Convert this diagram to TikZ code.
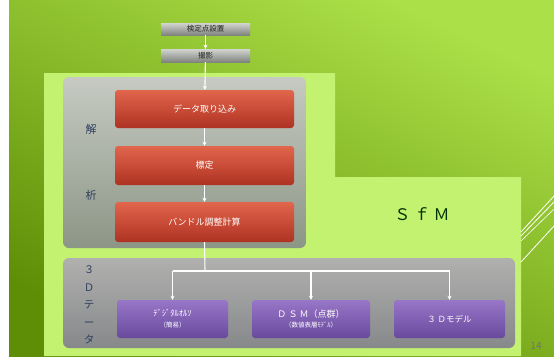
\documentclass[tikz,border=0pt]{standalone}
\usepackage{fontspec}
\setmainfont{Noto Sans CJK JP}
\usetikzlibrary{arrows.meta}
\definecolor{bgtop}{HTML}{ACE048}
\definecolor{bgbot}{HTML}{5E8E06}
\definecolor{lightgreen}{HTML}{C2F270}
\definecolor{redtop}{HTML}{E2664C}
\definecolor{redbot}{HTML}{AE3222}
\definecolor{purtop}{HTML}{9876C8}
\definecolor{purbot}{HTML}{684A9C}
\definecolor{pantop}{HTML}{C6CAC2}
\definecolor{panbot}{HTML}{8C9686}
\definecolor{pan2top}{HTML}{B0B0AE}
\definecolor{pan2bot}{HTML}{86888A}
\definecolor{greytop}{HTML}{D2D4D0}
\definecolor{greybot}{HTML}{80847E}
\definecolor{labelblue}{HTML}{2E3E5E}
\tikzset{
  redbox/.style={draw=none,rounded corners=3pt,top color=redtop,bottom color=redbot,text=white,font=\fontsize{9}{10}\selectfont},
  purbox/.style={draw=none,rounded corners=3pt,top color=purtop,bottom color=purbot,text=white,align=center},
  topbox/.style={draw=none,top color=greytop,bottom color=greybot,text=black!85,font=\fontsize{7.5}{8}\selectfont,inner sep=0pt},
  panel/.style={rounded corners=6pt},
  conn/.style={draw=white,line width=1.1pt,-{Stealth[length=4pt,width=4pt]}},
  plain/.style={draw=white,line width=1.1pt},
  sidelabel/.style={text=labelblue,font=\fontsize{11}{11}\selectfont},
}
\begin{document}
\begin{tikzpicture}[x=1pt,y=-1pt]
\useasboundingbox (0,0) rectangle (554,356);
% background
\shade[shading=axis,top color=bgtop,bottom color=bgbot,shading angle=-25] (9,0) rectangle (554,356);
\fill[white] (0,0) rectangle (9,356);
% light green region
\fill[lightgreen] (44,73) -- (335,73) -- (335,177) -- (521,177) -- (521,356) -- (44,356) -- cycle;
% diagonal lines
\draw[white,line width=0.8pt] (521,232) -- (554,196);
\draw[white,line width=0.8pt] (521,236) -- (554,202);
\draw[white,line width=0.6pt] (521,241) -- (554,209);
\draw[white,line width=0.8pt] (521,262) -- (554,226);
% panels
\shade[panel,top color=pantop,bottom color=panbot] (63,77) rectangle (306,248);
\shade[panel,top color=pan2top,bottom color=pan2bot] (63,258) rectangle (515,348);
% top boxes
\node[topbox,minimum width=89pt,minimum height=12pt] (kentei) at (205.5,29) {検定点設置};
\node[topbox,minimum width=89pt,minimum height=13pt] (satsuei) at (205.5,55.5) {撮影};
% red boxes
\node[redbox,minimum width=179pt,minimum height=38pt] (data) at (204.5,109) {データ取り込み};
\node[redbox,minimum width=179pt,minimum height=39pt] (hyotei) at (204.5,165.5) {標定};
\node[redbox,minimum width=179pt,minimum height=40pt] (bundle) at (204.5,222) {バンドル調整計算};
% purple boxes
\node[purbox,minimum width=111pt,minimum height=38pt] (ortho) at (172.5,319)
  {\fontsize{8.5}{9.5}\selectfont ﾃﾞｼﾞﾀﾙｵﾙｿ\\[-1pt]\fontsize{6.5}{7}\selectfont （簡易）};
\node[purbox,minimum width=118pt,minimum height=38pt] (dsm) at (311,319)
  {\fontsize{9}{10}\selectfont Ｄ Ｓ Ｍ（点群）\\[-2pt]\fontsize{6.5}{7}\selectfont （数値表層ﾓﾃﾞﾙ）};
\node[purbox,minimum width=111pt,minimum height=38pt] (model) at (449.5,319)
  {\fontsize{8.5}{10}\selectfont ３ Ｄモデル};
% side labels
\node[sidelabel] (kai) at (91,129) {解};
\node[sidelabel] (seki) at (91,195) {析};
\node[sidelabel,align=center,font=\fontsize{10.5}{17.5}\selectfont] (sanD) at (89,305) {３\\Ｄ\\テ\\ー\\タ};
% SfM
\node[text=black!80!green,font=\fontsize{16}{16}\selectfont] (sfm) at (422,214) {Ｓ ｆ Ｍ};
% page number
\node[text=black!55,font=\fontsize{10}{10}\selectfont] (pg) at (536,346) {14};
% connectors
\coordinate (branch) at (205,271);
\coordinate (bl) at (172.5,271);
\coordinate (br) at (449.5,271);
\coordinate (bm) at (311,271);
\draw[conn] (kentei) -- (satsuei);
\draw[conn] (satsuei) -- (data);
\draw[conn] (data) -- (hyotei);
\draw[conn] (hyotei) -- (bundle);
\draw[plain] (bundle.south) -- (branch);
\draw[plain] (bl) -- (br);
\draw[conn] (bl) -- (ortho);
\draw[conn] (bm) -- (dsm);
\draw[conn] (br) -- (model);
\end{tikzpicture}
\end{document}
